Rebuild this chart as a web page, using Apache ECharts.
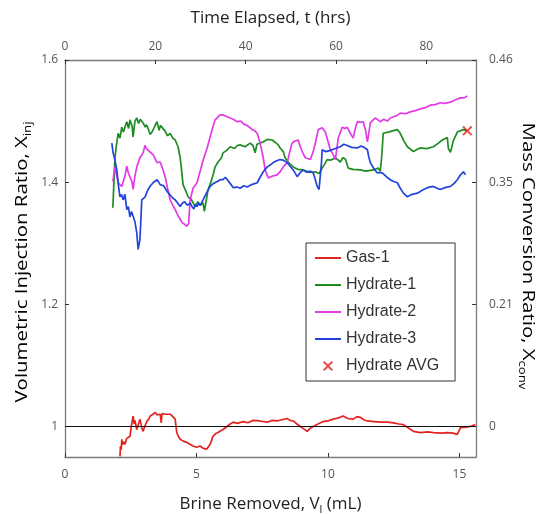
<!DOCTYPE html>
<html>
<head>
<meta charset="utf-8">
<script src="https://cdn.jsdelivr.net/npm/echarts@6/dist/echarts.min.js"></script>
<style>
  html, body { margin: 0; padding: 0; background: #fff; }
  #chart { width: 539px; height: 514px; }
</style>
</head>
<body>
<div id="chart"></div>
<script>
// Each run: [brine removed (mL), volumetric injection ratio]
const gas1 = [
  [2.09,0.951],[2.11,0.968],[2.14,0.962],[2.16,0.979],[2.19,0.970],[2.22,0.975],[2.28,0.971],
  [2.34,0.980],[2.40,0.978],[2.47,0.984],[2.53,1.002],[2.59,1.017],[2.63,1.004],[2.66,1.010],
  [2.73,0.995],[2.80,1.005],[2.85,1.012],[2.92,0.998],[2.97,0.992],[3.05,1.002],[3.11,1.008],
  [3.18,1.012],[3.24,1.017],[3.30,1.016],[3.35,1.020],[3.43,1.023],[3.50,1.019],[3.55,1.021],
  [3.62,1.020],[3.66,1.006],[3.69,1.021],[3.76,1.023],[3.84,1.020],[3.90,1.022],[4.00,1.020],
  [4.10,1.016],[4.19,1.012],[4.25,0.990],[4.31,0.984],[4.38,0.979],[4.50,0.976],[4.63,0.974],
  [4.75,0.971],[4.87,0.968],[5.00,0.966],[5.14,0.968],[5.26,0.964],[5.39,0.963],[5.46,0.967],
  [5.52,0.971],[5.58,0.978],[5.63,0.984],[5.72,0.988],[5.82,0.990],[5.92,0.993],[6.01,0.995],
  [6.16,1.000],[6.28,1.004],[6.40,1.007],[6.55,1.005],[6.78,1.008],[6.95,1.006],[7.16,1.010],
  [7.40,1.009],[7.69,1.007],[7.88,1.010],[8.07,1.009],[8.25,1.011],[8.45,1.013],[8.55,1.010],
  [8.68,1.009],[8.82,1.004],[8.95,1.000],[9.08,0.996],[9.21,0.992],[9.32,0.997],[9.44,1.000],
  [9.62,1.004],[9.82,1.008],[10.00,1.009],[10.20,1.012],[10.40,1.014],[10.58,1.017],[10.75,1.013],
  [10.96,1.012],[11.10,1.016],[11.23,1.015],[11.36,1.011],[11.50,1.009],[11.75,1.008],[11.99,1.007],
  [12.25,1.007],[12.49,1.006],[12.70,1.004],[12.87,1.003],[13.05,0.998],[13.25,0.992],[13.51,0.990],
  [13.80,0.991],[14.01,0.990],[14.30,0.989],[14.54,0.990],[14.75,0.989],[14.92,0.987],[15.04,0.998],
  [15.25,0.999],[15.42,1.000],[15.60,1.003]
];
const hydrate1 = [
  [1.82,1.358],[1.86,1.400],[1.90,1.440],[1.96,1.462],[2.02,1.480],[2.09,1.472],[2.16,1.490],
  [2.22,1.482],[2.28,1.485],[2.35,1.499],[2.42,1.488],[2.47,1.502],[2.55,1.492],[2.59,1.474],
  [2.66,1.500],[2.73,1.505],[2.80,1.496],[2.86,1.503],[2.90,1.500],[2.97,1.497],[3.05,1.490],
  [3.10,1.494],[3.16,1.488],[3.24,1.478],[3.31,1.482],[3.40,1.490],[3.45,1.495],[3.50,1.499],
  [3.58,1.485],[3.63,1.493],[3.69,1.490],[3.80,1.484],[3.90,1.476],[4.00,1.480],[4.10,1.472],
  [4.19,1.469],[4.30,1.458],[4.38,1.440],[4.42,1.425],[4.49,1.396],[4.60,1.385],[4.68,1.376],
  [4.80,1.372],[4.87,1.371],[4.95,1.360],[5.05,1.368],[5.14,1.362],[5.25,1.366],[5.30,1.352],
  [5.38,1.372],[5.44,1.388],[5.55,1.400],[5.63,1.412],[5.71,1.425],[5.82,1.433],[5.95,1.440],
  [6.01,1.448],[6.15,1.452],[6.28,1.458],[6.45,1.455],[6.55,1.460],[6.66,1.461],[6.85,1.458],
  [7.04,1.464],[7.15,1.460],[7.23,1.448],[7.30,1.462],[7.42,1.464],[7.54,1.466],[7.70,1.470],
  [7.88,1.469],[8.00,1.465],[8.11,1.461],[8.18,1.456],[8.30,1.450],[8.37,1.440],[8.50,1.432],
  [8.68,1.425],[8.85,1.421],[9.06,1.420],[9.30,1.416],[9.52,1.417],[9.66,1.414],[9.78,1.423],
  [9.88,1.430],[9.97,1.437],[10.10,1.436],[10.28,1.440],[10.47,1.433],[10.56,1.440],[10.66,1.438],
  [10.77,1.423],[10.95,1.421],[11.23,1.420],[11.45,1.418],[11.72,1.420],[11.91,1.423],[11.99,1.418],
  [12.04,1.440],[12.07,1.458],[12.10,1.480],[12.30,1.482],[12.45,1.484],[12.64,1.486],[12.75,1.480],
  [12.88,1.468],[13.02,1.458],[13.25,1.450],[13.40,1.454],[13.51,1.456],[13.75,1.455],[14.01,1.458],
  [14.20,1.464],[14.35,1.469],[14.54,1.473],[14.58,1.455],[14.66,1.449],[14.73,1.450],[14.77,1.468],
  [14.92,1.482],[15.15,1.486],[15.30,1.484]
];
const hydrate2 = [
  [1.82,1.401],[1.90,1.425],[1.97,1.409],[2.04,1.398],[2.09,1.395],[2.16,1.393],[2.28,1.410],
  [2.35,1.426],[2.41,1.415],[2.47,1.418],[2.55,1.400],[2.59,1.388],[2.66,1.410],[2.73,1.425],
  [2.85,1.440],[2.97,1.448],[3.04,1.460],[3.10,1.455],[3.16,1.453],[3.24,1.449],[3.31,1.448],
  [3.35,1.445],[3.43,1.438],[3.50,1.432],[3.62,1.433],[3.73,1.420],[3.81,1.409],[3.90,1.390],
  [4.00,1.371],[4.10,1.362],[4.19,1.355],[4.30,1.345],[4.45,1.334],[4.55,1.331],[4.63,1.328],
  [4.70,1.332],[4.76,1.371],[4.87,1.390],[5.02,1.399],[5.14,1.418],[5.25,1.436],[5.40,1.455],
  [5.52,1.474],[5.62,1.490],[5.71,1.502],[5.80,1.506],[5.90,1.510],[6.01,1.510],[6.17,1.507],
  [6.28,1.505],[6.40,1.503],[6.55,1.499],[6.68,1.500],[6.80,1.495],[6.92,1.493],[7.04,1.489],
  [7.12,1.486],[7.22,1.484],[7.31,1.480],[7.42,1.464],[7.54,1.440],[7.61,1.420],[7.73,1.407],
  [7.90,1.410],[8.07,1.412],[8.20,1.418],[8.30,1.425],[8.45,1.432],[8.55,1.450],[8.62,1.462],
  [8.68,1.466],[8.87,1.469],[8.95,1.458],[9.05,1.447],[9.14,1.440],[9.33,1.437],[9.44,1.450],
  [9.52,1.464],[9.63,1.486],[9.78,1.489],[9.90,1.482],[9.97,1.472],[10.09,1.453],[10.20,1.445],
  [10.28,1.437],[10.35,1.458],[10.39,1.472],[10.54,1.490],[10.65,1.488],[10.73,1.490],[10.85,1.480],
  [10.96,1.472],[11.05,1.490],[11.12,1.499],[11.25,1.498],[11.34,1.499],[11.43,1.485],[11.50,1.466],
  [11.56,1.482],[11.61,1.497],[11.72,1.502],[11.80,1.505],[11.90,1.502],[11.99,1.499],[12.12,1.503],
  [12.26,1.500],[12.37,1.505],[12.49,1.507],[12.62,1.509],[12.75,1.513],[12.95,1.512],[13.13,1.515],
  [13.32,1.517],[13.51,1.520],[13.70,1.522],[13.89,1.526],[14.08,1.527],[14.27,1.530],[14.45,1.529],
  [14.66,1.531],[14.85,1.535],[15.04,1.538],[15.18,1.538],[15.30,1.541]
];
const hydrate3 = [
  [1.78,1.464],[1.83,1.448],[1.90,1.436],[1.97,1.420],[2.03,1.395],[2.09,1.376],[2.15,1.380],
  [2.21,1.371],[2.28,1.380],[2.35,1.355],[2.41,1.360],[2.47,1.343],[2.53,1.352],[2.59,1.355],
  [2.66,1.335],[2.73,1.317],[2.78,1.290],[2.85,1.306],[2.92,1.371],[2.98,1.368],[3.05,1.376],
  [3.10,1.382],[3.16,1.388],[3.25,1.394],[3.35,1.399],[3.42,1.396],[3.50,1.404],[3.56,1.400],
  [3.62,1.396],[3.69,1.399],[3.75,1.394],[3.81,1.391],[3.90,1.384],[4.00,1.379],[4.10,1.374],
  [4.19,1.371],[4.30,1.365],[4.38,1.360],[4.47,1.366],[4.55,1.368],[4.65,1.362],[4.76,1.366],
  [4.83,1.360],[4.90,1.356],[4.96,1.364],[5.02,1.360],[5.08,1.366],[5.14,1.362],[5.25,1.371],
  [5.38,1.382],[5.52,1.393],[5.65,1.398],[5.79,1.401],[5.90,1.404],[6.01,1.404],[6.10,1.408],
  [6.17,1.407],[6.28,1.398],[6.40,1.391],[6.55,1.392],[6.66,1.390],[6.80,1.394],[6.93,1.392],
  [7.10,1.396],[7.31,1.399],[7.42,1.408],[7.54,1.417],[7.69,1.425],[7.80,1.428],[7.92,1.432],
  [8.05,1.435],[8.18,1.437],[8.30,1.436],[8.45,1.432],[8.56,1.426],[8.68,1.420],[8.83,1.409],
  [8.95,1.416],[9.06,1.420],[9.20,1.416],[9.33,1.418],[9.44,1.415],[9.52,1.404],[9.59,1.393],
  [9.66,1.388],[9.71,1.390],[9.75,1.430],[9.78,1.453],[9.92,1.450],[10.09,1.452],[10.28,1.455],
  [10.47,1.458],[10.60,1.462],[10.73,1.460],[10.90,1.457],[11.12,1.456],[11.25,1.459],[11.34,1.458],
  [11.50,1.453],[11.55,1.442],[11.61,1.432],[11.75,1.422],[11.88,1.415],[12.00,1.416],[12.10,1.414],
  [12.25,1.408],[12.37,1.404],[12.50,1.401],[12.64,1.399],[12.75,1.390],[12.87,1.382],[13.02,1.376],
  [13.20,1.380],[13.40,1.382],[13.60,1.387],[13.78,1.391],[14.01,1.393],[14.15,1.390],[14.27,1.388],
  [14.45,1.391],[14.66,1.393],[14.80,1.398],[14.92,1.404],[15.04,1.412],[15.15,1.417],[15.23,1.412]
];
const hydrateAvg = [[15.30, 1.484]];

// Axis ticks and labels
const brineTicks = [0, 5, 10, 15];
const timeTicks = [0, 20, 40, 60, 80];
const ratioTicks = [1.0, 1.2, 1.4, 1.6];
const ratioLabels = ['1', '1.2', '1.4', '1.6'];
const conversionLabels = ['0', '0.21', '0.35', '0.46'];

const FRAME = '#7a7a7a';
const LABEL_FONT = { color: '#555', fontSize: 12, fontFamily: 'Open Sans' };
const NAME_RICH = {
  a: { fontSize: 17, fontFamily: 'Open Sans', color: '#222', lineHeight: 22 },
  s: { fontSize: 11, fontFamily: 'Open Sans', color: '#222', lineHeight: 22, verticalAlign: 'bottom' }
};
const CROSS = 'path://M0,1.4 L1.4,0 L5,3.6 L8.6,0 L10,1.4 L6.4,5 L10,8.6 L8.6,10 L5,6.4 L1.4,10 L0,8.6 L3.6,5 Z';

function tickIndex(v) {
  return ratioTicks.findIndex(t => Math.abs(t - v) < 1e-6);
}

function baseAxis(extra) {
  return Object.assign({
    type: 'value',
    axisLine: { show: true, onZero: false, lineStyle: { color: FRAME, width: 1.3 } },
    splitLine: { show: false },
    nameLocation: 'middle',
    nameTextStyle: { rich: NAME_RICH }
  }, extra);
}

function ticks(values) {
  return { show: true, inside: true, length: 4, customValues: values, lineStyle: { color: '#333', width: 1 } };
}

// Vertical axis titles, drawn slightly elongated along their length
function sideTitle(text, x, y, rotation) {
  return {
    type: 'text', x: x, y: y, rotation: rotation, scaleX: 1.2, silent: true,
    style: { text: text, rich: NAME_RICH, align: 'center', verticalAlign: 'middle' }
  };
}

const chart = echarts.init(document.getElementById('chart'), null, { renderer: 'canvas' });

chart.setOption({
  animation: false,
  backgroundColor: '#fff',
  grid: { left: 65, right: 63, top: 60, bottom: 57, containLabel: false, outerBoundsMode: 'none' },
  graphic: [
    sideTitle('{a|Volumetric Injection Ratio, X}{s|inj}', 22, 262, Math.PI / 2),
    sideTitle('{a|Mass Conversion Ratio, X}{s|conv}', 528, 256, -Math.PI / 2)
  ],
  xAxis: [
    baseAxis({
      position: 'bottom', min: 0, max: 15.63,
      axisTick: ticks(brineTicks),
      axisLabel: Object.assign({ customValues: brineTicks, margin: 12 }, LABEL_FONT),
      name: '{a|Brine Removed, V}{s|l}{a| (mL)}', nameGap: 36
    }),
    baseAxis({
      position: 'top', min: 0, max: 91,
      axisTick: ticks(timeTicks),
      axisLabel: Object.assign({ customValues: timeTicks, margin: 7 }, LABEL_FONT),
      name: '{a|Time Elapsed, t (hrs)}', nameGap: 31
    })
  ],
  yAxis: [
    baseAxis({
      position: 'left', min: 0.95, max: 1.6,
      axisTick: ticks(ratioTicks),
      axisLabel: Object.assign({
        customValues: ratioTicks, margin: 7,
        formatter: v => ratioLabels[tickIndex(v)]
      }, LABEL_FONT)
    }),
    baseAxis({
      position: 'right', min: 0.95, max: 1.6,
      axisTick: ticks(ratioTicks),
      axisLabel: Object.assign({
        customValues: ratioTicks, margin: 13,
        formatter: v => conversionLabels[tickIndex(v)]
      }, LABEL_FONT)
    })
  ],
  legend: {
    orient: 'vertical',
    left: 306, top: 243,
    itemWidth: 26, itemHeight: 10, itemGap: 11,
    padding: [7, 16, 7, 8],
    borderColor: '#333', borderWidth: 1, backgroundColor: '#fff',
    textStyle: { fontFamily: 'Liberation Sans', fontSize: 16, color: '#333' },
    data: [
      { name: 'Gas-1', itemStyle: { opacity: 0 } },
      { name: 'Hydrate-1', itemStyle: { opacity: 0 } },
      { name: 'Hydrate-2', itemStyle: { opacity: 0 } },
      { name: 'Hydrate-3', itemStyle: { opacity: 0 } },
      { name: 'Hydrate AVG' }
    ]
  },
  series: [
    {
      name: 'Gas-1', type: 'line', data: gas1, symbol: 'none',
      lineStyle: { color: '#e3231f', width: 1.7 }, itemStyle: { color: '#e3231f' },
      markLine: {
        silent: true, symbol: ['none', 'none'], label: { show: false },
        lineStyle: { color: '#111', width: 1, type: 'solid' },
        data: [{ yAxis: 1 }]
      },
      z: 3
    },
    {
      name: 'Hydrate-1', type: 'line', data: hydrate1, symbol: 'none',
      lineStyle: { color: '#1f8c23', width: 1.7 }, itemStyle: { color: '#1f8c23' }
    },
    {
      name: 'Hydrate-2', type: 'line', data: hydrate2, symbol: 'none',
      lineStyle: { color: '#e23be6', width: 1.7 }, itemStyle: { color: '#e23be6' }
    },
    {
      name: 'Hydrate-3', type: 'line', data: hydrate3, symbol: 'none',
      lineStyle: { color: '#2244dd', width: 1.7 }, itemStyle: { color: '#2244dd' }
    },
    {
      name: 'Hydrate AVG', type: 'scatter', data: hydrateAvg,
      symbol: CROSS, symbolSize: 10, itemStyle: { color: '#e3231f' }, z: 5
    }
  ]
});
</script>
</body>
</html>
